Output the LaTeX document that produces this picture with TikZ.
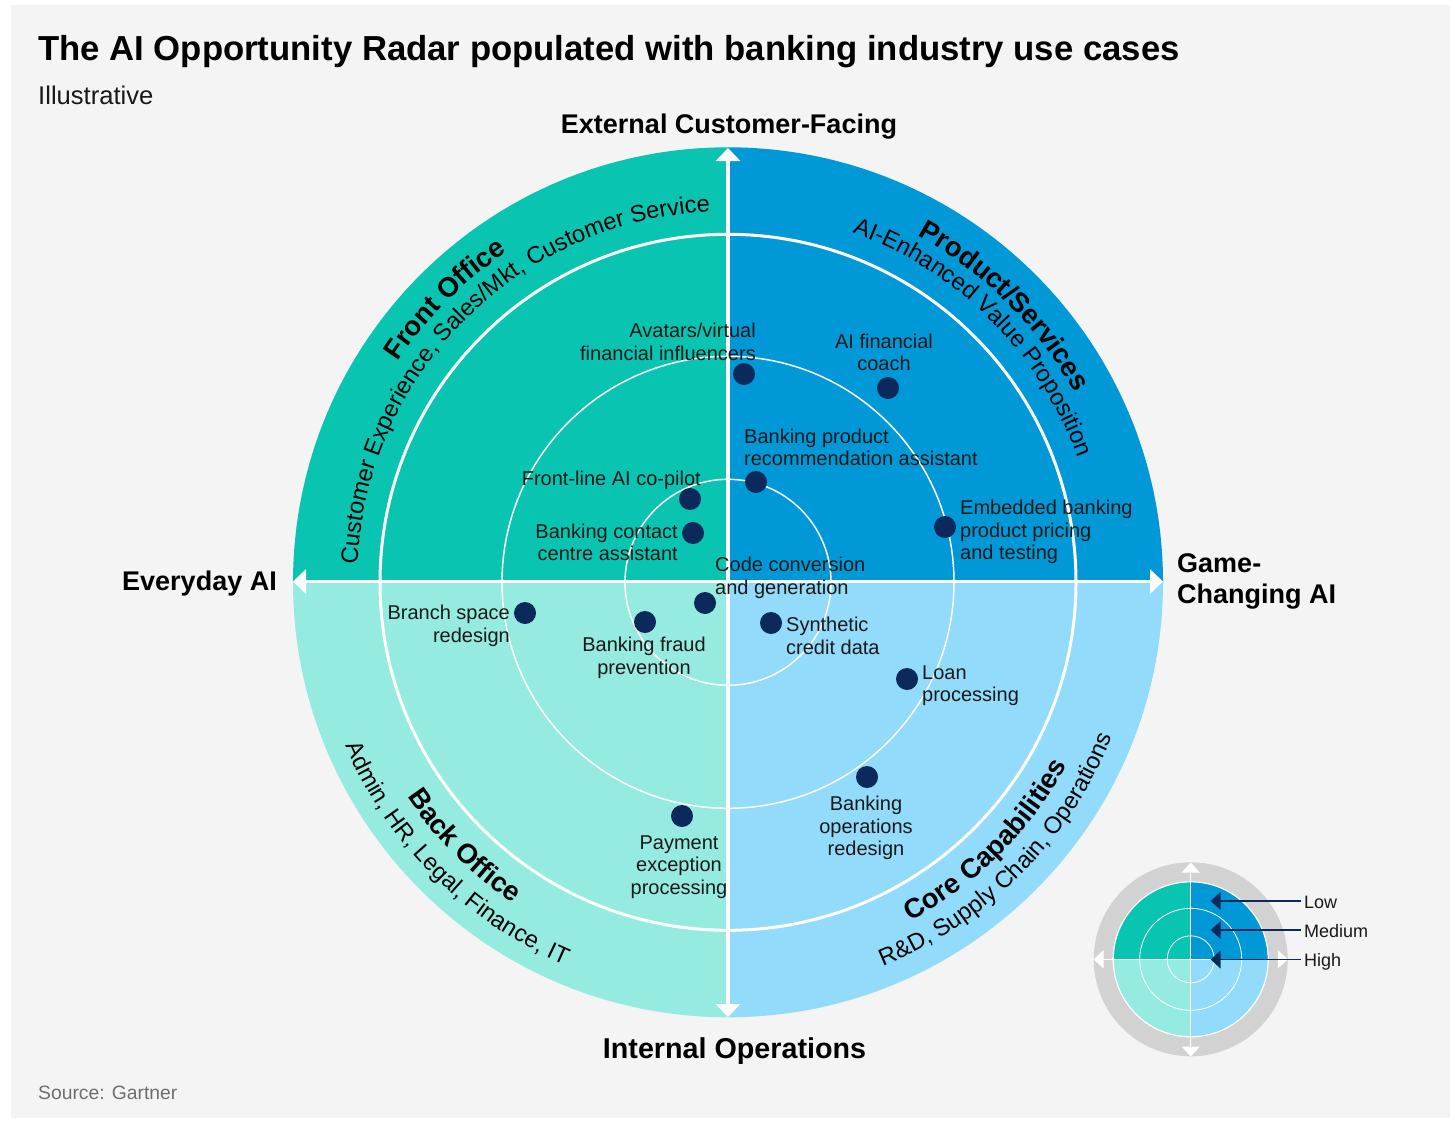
\documentclass[tikz,border=0pt]{standalone}
\usepackage{fontspec}
\setmainfont{Liberation Sans}
\usetikzlibrary{arrows.meta,decorations.text}
\definecolor{panel}{HTML}{F4F4F4}
\definecolor{qtl}{HTML}{09C4B1}
\definecolor{qtr}{HTML}{0098D6}
\definecolor{qbl}{HTML}{96EBE0}
\definecolor{qbr}{HTML}{92DBFA}
\definecolor{dotc}{HTML}{0B2A5B}
\definecolor{legrey}{HTML}{D2D2D2}
\definecolor{srcgrey}{HTML}{6E6E6E}
\newcommand{\lblfont}{\fontsize{20}{22.6}\selectfont}
\newcommand{\axfont}{\fontsize{27}{31}\selectfont\bfseries}
\newcommand{\arcreg}{\fontsize{23.7}{30}\selectfont}
\newcommand{\arcbold}{\fontsize{27.5}{32}\selectfont\bfseries}
\tikzset{
  lbl/.style={inner sep=0pt,font=\lblfont,text=black!90},
  axlbl/.style={inner sep=0pt,font=\axfont,text=black},
  usecase/.style={circle,fill=dotc,minimum size=22pt,inner sep=0pt},
  axisline/.style={white,line width=3.5pt,{Triangle[length=13pt,width=24pt]}-{Triangle[length=13pt,width=24pt]}},
  legaxis/.style={white,line width=1.2pt,{Triangle[length=10pt,width=18pt]}-{Triangle[length=10pt,width=18pt]}},
  legptr/.style={dotc,line width=1.5pt,-{Triangle[length=10pt,width=18pt]}},
  leglbl/.style={inner xsep=3pt,inner ysep=0pt,text height=14pt,text depth=0pt,font=\fontsize{18}{20}\selectfont,text=black!90,anchor=west},
  arcreg/.style={decorate,decoration={text along path,text align=center,text format delimiters={|}{|},text={|\arcreg|#1}}},
  arcbold/.style={decorate,decoration={text along path,text align=center,text format delimiters={|}{|},text={|\arcbold|#1}}}
}
\begin{document}
\begin{tikzpicture}[x=1pt,y=-1pt]
\useasboundingbox (0,0) rectangle (1455,1121);
\fill[white] (0,0) rectangle (1455,1121);
\fill[panel] (11,5) rectangle (1450,1118);
% radar
\begin{scope}[shift={(728,582.3)},x=1pt,y=1pt]
\fill[qtl] (0,0) -- (90:435pt) arc (90:180:435pt) -- cycle;
\fill[qtr] (0,0) -- (0:435pt) arc (0:90:435pt) -- cycle;
\fill[qbl] (0,0) -- (180:435pt) arc (180:270:435pt) -- cycle;
\fill[qbr] (0,0) -- (270:435pt) arc (270:360:435pt) -- cycle;
\draw[white,line width=3pt] (0,0) circle (348pt);
\draw[white,line width=1.5pt] (0,0) circle (226pt);
\draw[white,line width=1.5pt] (0,0) circle (103pt);
\path[arcreg={Customer Experience, Sales/Mkt, Customer Service}] (180:371pt) arc (180:90:371pt);
\path[arcbold={Front Office}] (165:397pt) arc (165:105:397pt);
\path[arcreg={AI-Enhanced Value Proposition}] (80:371pt) arc (80:10:371pt);
\path[arcbold={Product/Services}] (75:395pt) arc (75:15:395pt);
\path[arcreg={Admin, HR, Legal, Finance, IT}] (190:416pt) arc (190:260:416pt);
\path[arcbold={Back Office}] (200:386pt) arc (200:250:386pt);
\path[arcreg={R{\&}D, Supply Chain, Operations}] (270:414pt) arc (270:360:414pt);
\path[arcbold={Core Capabilities}] (285:385pt) arc (285:345:385pt);
\end{scope}
\coordinate (axN) at (728,148);
\coordinate (axS) at (728,1017);
\coordinate (axW) at (293,581.5);
\coordinate (axE) at (1163,581.5);
\draw[axisline] (axN) -- (axS);
\draw[axisline] (axW) -- (axE);
% titles
\node[inner sep=0pt,anchor=west,font=\fontsize{34.7}{40}\selectfont\bfseries] (title) at (38,52) {The AI Opportunity Radar populated with banking industry use cases};
\node[inner sep=0pt,anchor=west,font=\fontsize{25.6}{28}\selectfont,text=black!90] (sub) at (38,95) {Illustrative};
\node[inner sep=0pt,anchor=west,font=\fontsize{19.3}{22}\selectfont,text=srcgrey] (src) at (38,1093) {Source: Gartner};
% axis labels
\node[axlbl] (top) at (729,127) {External Customer-Facing};
\node[axlbl,font=\fontsize{28.7}{31}\selectfont\bfseries] (bottom) at (734.5,1051) {Internal Operations};
\node[axlbl,anchor=east] (left) at (277,584) {Everyday AI};
\node[axlbl,anchor=west,align=left] (right) at (1177,581) {Game-\\Changing AI};
% use cases
\node[usecase] (d1) at (744,374) {};
\node[usecase] (d2) at (888,388) {};
\node[usecase] (d3) at (756,482) {};
\node[usecase] (d4) at (945,527) {};
\node[usecase] (d5) at (690,499) {};
\node[usecase] (d6) at (693,533) {};
\node[usecase] (d7) at (705,603) {};
\node[usecase] (d8) at (525,613) {};
\node[usecase] (d9) at (771,623) {};
\node[usecase] (d10) at (645,622) {};
\node[usecase] (d11) at (907,679) {};
\node[usecase] (d12) at (867,777) {};
\node[usecase] (d13) at (682,816) {};
\node[lbl,anchor=east,align=right] (l1) at (756,342) {Avatars/virtual\\financial influencers};
\node[lbl,align=center] (l2) at (884,352.5) {AI financial\\coach};
\node[lbl,anchor=west,align=left] (l3) at (744,447.5) {Banking product\\recommendation assistant};
\node[lbl,anchor=west,align=left] (l4) at (960,532) {Embedded banking\\product pricing\\and testing};
\node[lbl,anchor=east,align=right] (l5) at (701,480) {Front-line AI co-pilot};
\node[lbl,anchor=east,align=right] (l6) at (678,542.5) {Banking contact\\centre assistant};
\node[lbl,anchor=west,align=left] (l7) at (715,578) {Code conversion\\and generation};
\node[lbl,anchor=east,align=right] (l8) at (510,626) {Branch space\\redesign};
\node[lbl,anchor=west,align=left] (l9) at (786,636) {Synthetic\\credit data};
\node[lbl,align=center] (l10) at (644,658) {Banking fraud\\prevention};
\node[lbl,anchor=west,align=left] (l11) at (922,685.5) {Loan\\processing};
\node[lbl,align=center] (l12) at (866,828) {Banking\\operations\\redesign};
\node[lbl,align=center] (l13) at (679,867) {Payment\\exception\\processing};
% legend
\begin{scope}[shift={(1190.7,959.3)},x=1pt,y=1pt]
\fill[legrey] (0,0) circle (97pt);
\fill[qtl] (0,0) -- (90:77.5pt) arc (90:180:77.5pt) -- cycle;
\fill[qtr] (0,0) -- (0:77.5pt) arc (0:90:77.5pt) -- cycle;
\fill[qbl] (0,0) -- (180:77.5pt) arc (180:270:77.5pt) -- cycle;
\fill[qbr] (0,0) -- (270:77.5pt) arc (270:360:77.5pt) -- cycle;
\draw[white,line width=1.2pt] (0,0) circle (77.5pt);
\draw[white,line width=0.8pt] (0,0) circle (51pt);
\draw[white,line width=0.8pt] (0,0) circle (23.5pt);
\end{scope}
\coordinate (lgN) at (1190.7,862.5);
\coordinate (lgS) at (1190.7,1056.5);
\coordinate (lgW) at (1093.5,959.3);
\coordinate (lgE) at (1287.9,959.3);
\draw[legaxis] (lgN) -- (lgS);
\draw[legaxis] (lgW) -- (lgE);
\node[leglbl] (low) at (1301,901) {Low};
\node[leglbl] (medium) at (1301,930) {Medium};
\node[leglbl] (high) at (1301,959.5) {High};
\coordinate (lowtip) at (1210.7,901);
\coordinate (medtip) at (1210.7,930);
\coordinate (hightip) at (1210.7,959.5);
\draw[legptr] (low) -- (lowtip);
\draw[legptr] (medium) -- (medtip);
\draw[legptr] (high) -- (hightip);
\end{tikzpicture}
\end{document}
